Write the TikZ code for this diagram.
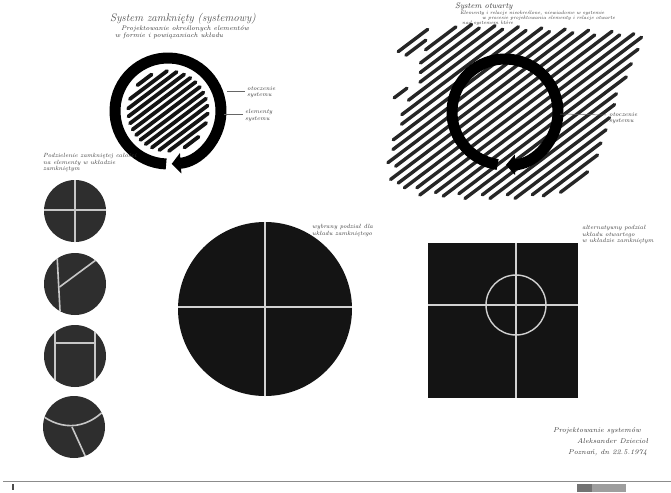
\documentclass[tikz,border=0pt]{standalone}
\usetikzlibrary{arrows.meta}
\begin{document}
\begin{tikzpicture}[x=1pt,y=-1pt,
  hand/.style={font=\fontsize{6}{6.8}\selectfont\itshape, text=black!78, align=left, inner sep=0pt, anchor=north west},
  handtitle/.style={font=\fontsize{11}{12}\selectfont\itshape, text=black!70, inner sep=0pt, anchor=base west},
  ring/.style={line width=11pt, draw=black},
  stripe/.style={line width=3.8pt, line cap=round, draw=black!92},
  ostripe/.style={line width=3.4pt, line cap=round, draw=black!85},
  smalldisc/.style={fill=black!82},
  bigdisc/.style={fill=black!92},
  cut/.style={draw=black!22, line width=1.6pt},
  bigcut/.style={draw=black!18, line width=1.4pt},
  leader/.style={draw=black!60, line width=0.5pt},
  ringarrow/.style={-{Triangle[length=9pt,width=20pt]}}
]
\useasboundingbox (0,0) rectangle (671,492);
\fill[white] (0,0) rectangle (671,492);

% ---------------- closed system (top left) ----------------
\coordinate (C1) at (168,111);
\begin{scope}[shift={(C1)}, rotate=37]
  \foreach \v in {-39,-32.5,...,39.1} {
    \pgfmathsetmacro\h{sqrt(max(40*40-\v*\v,1))}
    \draw[stripe] (-\h,\v) -- (\h,\v);
  }
\end{scope}
\draw[ring, ringarrow] ([shift={(92:53)}]C1) arc[start angle=92, end angle=446, radius=53];

\node[handtitle] (t1) at (110,22) {System zamknięty (systemowy)};
\node[hand] (t1a) at (121,26) {\fontsize{6.6}{7}\selectfont Projektowanie określonych elementów};
\node[hand] (t1b) at (115,33) {\fontsize{6.6}{7}\selectfont w formie i powiązaniach układu};

\coordinate (L1a) at (227,91);
\coordinate (L1b) at (245,91);
\coordinate (L2a) at (224,114);
\coordinate (L2b) at (243,114);
\draw[leader] (L1a) -- (L1b);
\draw[leader] (L2a) -- (L2b);
\node[hand] (o1) at (247,86) {otoczenie\\systemu};
\node[hand] (e1) at (245,109) {elementy\\systemu};

% ---------------- open system (top right) ----------------
\coordinate (C2) at (505,112);
\begin{scope}[shift={(C2)}, rotate=37]
  \foreach \v/\a/\b in {-112.5/-49/-12, -105/-45/-20, -78/-80/-64,
     -97.5/-26/12, -90/-38/26, -82.5/-44/30, -75/-50/44, -67.5/-70/48,
     -60/-84/62, -52.5/-90/66, -45/-106/80, -37.5/-112/84, -30/-124/98,
     -22.5/-120/102, -15/-132/116, -7.5/-128/118, 0/-126/134, 7.5/-116/138,
     15/-118/150, 22.5/-104/154, 30/-100/144, 37.5/-86/130, 45/-84/118,
     52.5/-68/100, 60/-64/92, 67.5/-48/80, 75/-44/70, 82.5/-28/58,
     90/-20/48, 97.5/-4/30} {
    \draw[ostripe] (\a,\v) -- (\b,\v);
  }
\end{scope}
\draw[ring, ringarrow] ([shift={(98:53)}]C2) arc[start angle=98, end angle=449, radius=53];

\node[hand] (t2) at (455,3) {\fontsize{8}{9}\selectfont System otwarty};
\node[hand] (t2a) at (460,11) {\fontsize{5}{6}\selectfont Elementy i relacje nieokreślone, niewiadome w systemie};
\node[hand] (t2b) at (482,16) {\fontsize{5}{6}\selectfont w procesie projektowania elementy i relacje otwarte};
\node[hand] (t2c) at (462,21) {\fontsize{5}{6}\selectfont nad systemem które};

\coordinate (L3a) at (560,114);
\coordinate (L3b) at (606,115);
\draw[leader] (L3a) -- (L3b);
\node[hand] (o2) at (609,112) {otoczenie\\systemu};

% ---------------- left column of small discs ----------------
\node[hand] (t3) at (43,153) {Podzielenie zamkniętej całości\\na elementy w układzie\\zamkniętym};

\coordinate (D1) at (75,211);
\fill[smalldisc] (D1) circle[radius=31];
\begin{scope}
  \clip (D1) circle[radius=31];
  \draw[cut] (75,170) -- (75,250);
  \draw[cut] (40,210) -- (110,210);
\end{scope}

\coordinate (D2) at (75,284);
\fill[smalldisc] (D2) circle[radius=31];
\begin{scope}
  \clip (D2) circle[radius=31];
  \draw[cut] (56.5,245) -- (60.5,320);
  \draw[cut] (59.5,287) -- (100,257);
\end{scope}

\coordinate (D3) at (75,356);
\fill[smalldisc] (D3) circle[radius=31];
\begin{scope}
  \clip (D3) circle[radius=31];
  \draw[cut] (55,320) -- (55,390);
  \draw[cut] (95,320) -- (95,390);
  \draw[cut] (55,343) -- (95,343);
\end{scope}

\coordinate (D4) at (74,427);
\fill[smalldisc] (D4) circle[radius=31];
\begin{scope}
  \clip (D4) circle[radius=31];
  \draw[cut] (38,412) .. controls (55,428) and (85,435) .. (110,404);
  \draw[cut] (72,427) -- (88,462);
\end{scope}

% ---------------- big disc ----------------
\coordinate (B) at (265,309);
\fill[bigdisc] (B) circle[radius=87];
\begin{scope}
  \clip (B) circle[radius=87];
  \draw[bigcut] (265,215) -- (265,400);
  \draw[bigcut] (170,307) -- (360,307);
\end{scope}
\node[hand] (t4) at (312,224) {wybrany podział dla\\układu zamkniętego};

% ---------------- square ----------------
\coordinate (S1) at (428,243);
\coordinate (S2) at (578,398);
\fill[bigdisc] (S1) rectangle (S2);
\coordinate (SC) at (516,305);
\draw[bigcut] (516,243) -- (516,398);
\draw[bigcut] (428,305) -- (578,305);
\draw[bigcut] (SC) circle[radius=30];
\node[hand] (t5) at (582,225) {alternatywny podział\\układu otwartego\\w układzie zamkniętym};

% ---------------- signature ----------------
\node[hand] (s1) at (553,427) {\fontsize{7}{8}\selectfont Projektowanie systemów};
\node[hand] (s2) at (577,438) {\fontsize{7}{8}\selectfont Aleksander Dziecioł};
\node[hand] (s3) at (568,449) {\fontsize{7}{8}\selectfont Poznań, dn 22.5.1974};

% ---------------- bottom edge ----------------
\coordinate (E1) at (3,481);
\coordinate (E2) at (671,481);
\draw[black!45, line width=0.8pt] (E1) -- (E2);
\fill[black!70] (12,484) rectangle (13.5,490);
\fill[black!55] (577,484) rectangle (592,492);
\fill[black!38] (592,484) rectangle (626,492);
\end{tikzpicture}
\end{document}
